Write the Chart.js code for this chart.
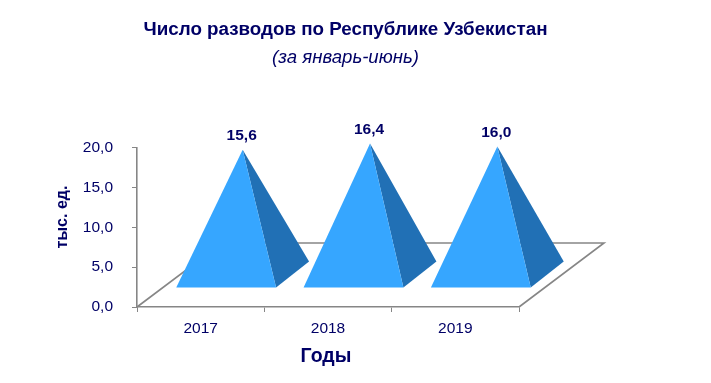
<!DOCTYPE html>
<html><head><meta charset="utf-8">
<style>html,body{margin:0;padding:0;background:#fff}canvas{display:block}</style>
<script src="https://cdn.jsdelivr.net/npm/chart.js@4"></script>
</head><body><canvas id="c" width="711" height="383"></canvas>
<script>
const categories = ['2017', '2018', '2019'];
const seriesValues = [15.6, 16.4, 16.0];
const yTicks = [0, 5, 10, 15, 20];
const titleText = 'Число разводов по Республике Узбекистан';
const subtitleText = '(за январь-июнь)';
const xTitle = 'Годы';
const yTitle = 'тыс. ед.';

const navy = '#000066', grey = '#868686', front = '#36A6FF', side = '#2170B5';
const family = '"Liberation Sans", Arial, sans-serif';
const fmt = v => v.toFixed(1).replace('.', ',');
const floorDx = 85, floorDy = 64;   // oblique floor depth
const baseDx = 33, baseDy = 26;     // oblique pyramid base depth
const gapDx = 25.5, gapDy = 19;     // front edge inset on the floor
const apexLift = floorDy / 2 + 1;

function pyramidDraw(ctx) {
  const fx = this.x + gapDx, w = this.width / 2, fy = this.base - gapDy;
  const ax = fx + baseDx / 2, ay = this.y - apexLift;
  ctx.save();
  ctx.fillStyle = side;
  ctx.beginPath();
  ctx.moveTo(ax, ay); ctx.lineTo(fx + w, fy); ctx.lineTo(fx + w + baseDx, fy - baseDy);
  ctx.closePath(); ctx.fill();
  ctx.fillStyle = front;
  ctx.beginPath();
  ctx.moveTo(ax, ay); ctx.lineTo(fx - w, fy); ctx.lineTo(fx + w, fy);
  ctx.closePath(); ctx.fill();
  ctx.restore();
}

const pyramids = {
  id: 'pyramids',
  afterDatasetUpdate(chart, args) {
    chart.getDatasetMeta(args.index).data.forEach(el => { el.draw = pyramidDraw; });
  },
  beforeDatasetsDraw(chart) {
    const { ctx, chartArea: a } = chart;
    ctx.save();
    ctx.strokeStyle = grey; ctx.lineWidth = 1.6;
    ctx.beginPath();
    ctx.moveTo(a.left, a.bottom);
    ctx.lineTo(a.left + floorDx, a.bottom - floorDy);
    ctx.lineTo(a.right + floorDx, a.bottom - floorDy);
    ctx.lineTo(a.right, a.bottom);
    ctx.stroke();
    ctx.restore();
  },
  afterDatasetsDraw(chart) {
    const { ctx, chartArea: a } = chart;
    ctx.save();
    ctx.fillStyle = navy;
    ctx.textAlign = 'center'; ctx.textBaseline = 'middle';
    ctx.font = 'bold 15.5px ' + family;
    chart.getDatasetMeta(0).data.forEach((el, i) => {
      ctx.fillText(fmt(seriesValues[i]), el.x + gapDx + baseDx / 2 - 1, el.y - apexLift - 14);
    });
    ctx.font = 'bold 19.5px ' + family;
    ctx.fillText(xTitle, (a.left + a.right) / 2 - 2, 357);
    ctx.font = 'bold 16px ' + family;
    ctx.translate(63, 217);
    ctx.rotate(-Math.PI / 2);
    ctx.fillText(yTitle, 0, 0);
    ctx.restore();
  }
};

new Chart(document.getElementById('c'), {
  type: 'bar',
  data: { labels: categories, datasets: [{ label: yTitle, data: seriesValues, backgroundColor: front,
    barPercentage: 0.784, categoryPercentage: 1, clip: false }] },
  plugins: [pyramids],
  options: {
    responsive: false, animation: false, events: [],
    layout: { padding: { left: 0, right: 20, top: 0, bottom: 0 } },
    plugins: {
      legend: { display: false }, tooltip: { enabled: false },
      title: { display: true, text: titleText, color: navy, padding: { top: 19, bottom: 4.8 },
        font: { family, size: 18.8, weight: 'bold' } },
      subtitle: { display: true, text: subtitleText, color: navy, padding: { top: 0, bottom: 79.1 },
        font: { family, size: 18.6, style: 'italic', weight: 'normal' } }
    },
    scales: {
      x: {
        afterFit(s) { s.height = 76; },
        grid: { display: true, drawOnChartArea: false, drawTicks: true, tickLength: 5, color: grey, offset: true },
        border: { color: grey, width: 1.6 },
        ticks: { color: navy, padding: 7, font: { family, size: 15.5 } }
      },
      y: {
        position: 'left', min: 0, max: 20,
        afterFit(s) { s.width = 137; },
        afterBuildTicks(s) { s.ticks = yTicks.map(v => ({ value: v })); },
        grid: { display: true, drawOnChartArea: false, drawTicks: true, tickLength: 5, color: grey },
        border: { color: grey, width: 1.6 },
        ticks: { color: navy, padding: 19, callback: v => fmt(v), font: { family, size: 15.5 } }
      },
      spacer: {
        type: 'linear', position: 'right', display: true,
        afterFit(s) { s.width = 172; },
        grid: { display: false }, border: { display: false }, ticks: { display: false }
      }
    }
  }
});
</script></body></html>
